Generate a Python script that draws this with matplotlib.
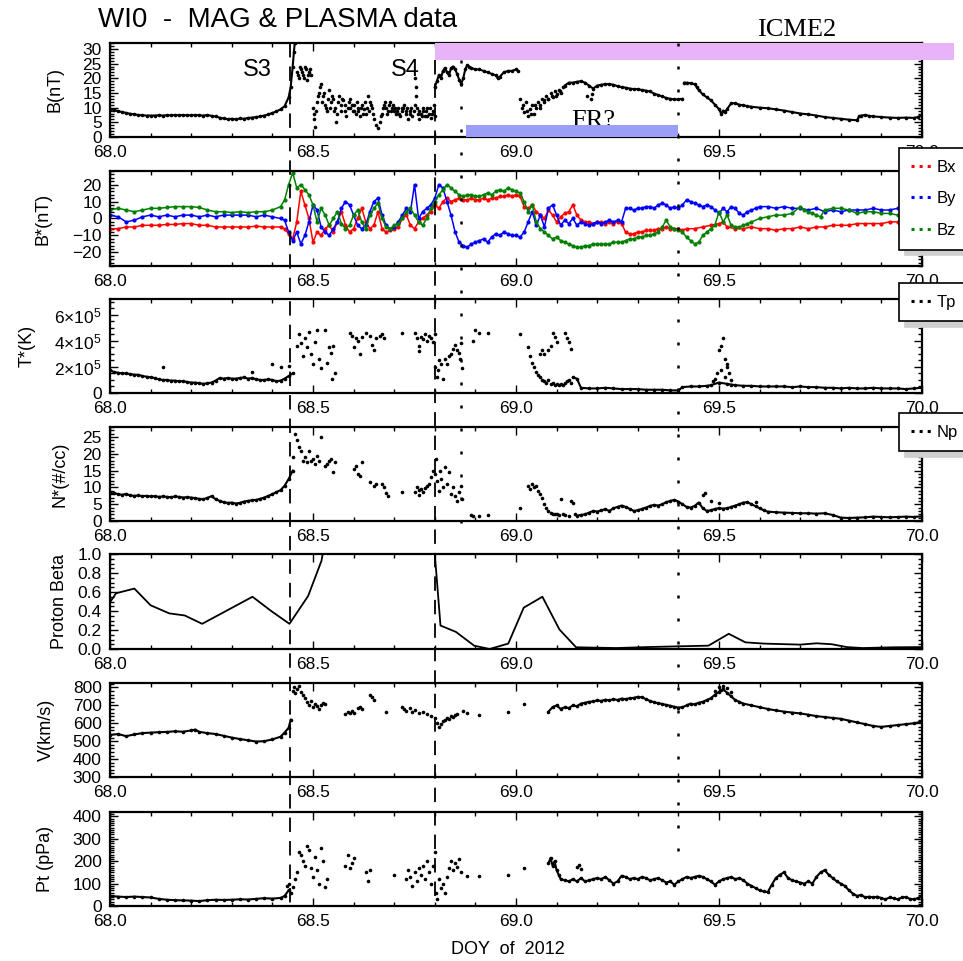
import numpy as np
import matplotlib
matplotlib.use('Agg')
import matplotlib.pyplot as plt
from matplotlib.lines import Line2D
from matplotlib.patches import Rectangle
from matplotlib.ticker import MultipleLocator, FixedLocator, FixedFormatter, FormatStrFormatter
import matplotlib.transforms as mtransforms

plt.rcParams['font.family'] = ['Liberation Sans', 'DejaVu Sans']
plt.rcParams['mathtext.fontset'] = 'custom'
plt.rcParams['mathtext.rm'] = 'Liberation Sans'
plt.rcParams['mathtext.it'] = 'Liberation Sans:italic'
plt.rcParams['mathtext.bf'] = 'Liberation Sans:bold'

# ---------------- DATA ----------------
# Panel 1: |B| (nT)
B_quiet = [(68.00, 9.6), (68.01, 9.2), (68.02, 8.8), (68.03, 8.5), (68.04, 8.2), (68.05, 7.9), (68.06, 7.7),
           (68.07, 7.5), (68.08, 7.4), (68.09, 7.3), (68.10, 7.3), (68.11, 7.3), (68.12, 7.4), (68.13, 7.3),
           (68.14, 7.4), (68.15, 7.4), (68.16, 7.5), (68.17, 7.4), (68.18, 7.5), (68.19, 7.4), (68.20, 7.4),
           (68.21, 7.5), (68.22, 7.4), (68.23, 7.3), (68.24, 7.5), (68.25, 7.2), (68.26, 7.0), (68.27, 6.6),
           (68.28, 6.3), (68.29, 6.1), (68.30, 6.2), (68.31, 6.0), (68.32, 6.3), (68.33, 6.2), (68.34, 6.5),
           (68.35, 6.6), (68.36, 6.8), (68.37, 7.0), (68.38, 7.3), (68.39, 7.7), (68.40, 8.2), (68.41, 8.7),
           (68.42, 9.4), (68.43, 10.5), (68.44, 13.5), (68.445, 17.0), (68.45, 24.0), (68.453, 29.0), (68.455, 32.0)]
B_sheath = [(68.46, 22), (68.465, 20), (68.47, 23), (68.475, 21), (68.48, 24), (68.485, 19.5), (68.49, 22),
            (68.495, 21), (68.50, 10), (68.502, 6), (68.505, 3.5), (68.51, 12), (68.515, 15), (68.52, 18),
            (68.525, 14), (68.53, 11), (68.535, 9), (68.54, 16), (68.545, 12), (68.55, 13), (68.555, 10),
            (68.557, 5), (68.56, 8), (68.565, 14), (68.57, 11), (68.575, 12.5), (68.58, 9), (68.585, 10),
            (68.59, 13), (68.595, 11), (68.60, 9), (68.605, 8), (68.61, 10), (68.615, 7), (68.62, 11),
            (68.625, 9.5), (68.63, 8), (68.635, 14), (68.64, 12), (68.645, 10), (68.65, 6), (68.655, 4),
            (68.66, 3), (68.665, 5), (68.67, 8), (68.675, 11), (68.68, 10), (68.685, 9), (68.69, 12),
            (68.695, 10), (68.70, 9), (68.705, 8), (68.71, 10), (68.715, 7), (68.72, 9), (68.725, 11),
            (68.73, 8), (68.735, 6), (68.74, 9), (68.745, 7), (68.75, 11), (68.752, 20), (68.753, 17),
            (68.754, 14), (68.755, 10), (68.76, 6), (68.765, 8), (68.77, 9), (68.775, 7), (68.78, 10),
            (68.785, 8), (68.79, 6.5), (68.795, 9), (68.80, 7),
            (68.462, 21), (68.468, 24), (68.472, 22), (68.478, 20), (68.482, 23), (68.488, 21), (68.492, 23),
            (68.503, 8), (68.508, 9), (68.512, 14), (68.518, 17), (68.522, 12), (68.528, 15), (68.532, 10),
            (68.538, 13), (68.542, 10), (68.548, 14), (68.552, 9), (68.562, 12), (68.568, 9), (68.572, 13),
            (68.578, 11), (68.582, 7), (68.588, 12), (68.592, 10), (68.598, 9), (68.602, 11), (68.608, 12),
            (68.612, 9), (68.618, 10), (68.622, 8), (68.628, 12), (68.632, 10), (68.638, 9), (68.642, 11),
            (68.648, 8), (68.668, 7), (68.672, 10), (68.678, 12), (68.682, 8), (68.688, 11), (68.692, 9),
            (68.698, 11), (68.702, 10), (68.708, 9), (68.712, 8), (68.718, 10), (68.722, 10), (68.728, 9),
            (68.732, 10), (68.738, 8), (68.742, 10), (68.748, 9), (68.758, 8), (68.762, 9), (68.768, 7),
            (68.772, 10), (68.778, 9), (68.782, 7), (68.788, 10), (68.792, 8), (68.798, 11)]
B_ejecta = [(68.80, 17), (68.805, 19), (68.81, 21), (68.815, 20), (68.82, 22.5), (68.825, 23.5), (68.83, 22),
            (68.835, 21), (68.84, 23.5), (68.845, 24), (68.85, 23), (68.855, 21.5), (68.86, 19.5),
            (68.865, 18), (68.87, 20), (68.875, 23), (68.88, 24.5), (68.885, 24), (68.89, 23.5), (68.90, 23),
            (68.91, 23), (68.92, 22.5), (68.93, 22), (68.94, 21.5), (68.95, 21), (68.955, 20), (68.96, 20.5),
            (68.97, 22), (68.98, 22.5), (68.99, 22.5), (69.00, 23), (69.005, 22.5)]
B_gap = [(69.01, 13), (69.015, 10), (69.02, 8.5), (69.025, 12), (69.03, 7), (69.035, 9.5), (69.04, 11),
         (69.045, 8), (69.05, 10), (69.055, 12), (69.06, 11), (69.065, 13), (69.07, 12.5), (69.075, 14),
         (69.08, 13), (69.085, 15), (69.09, 13.5), (69.095, 15.5), (69.10, 14.5), (69.105, 16), (69.11, 15),
         (69.115, 17), (69.175, 14), (69.185, 13), (69.187, 14.5),
         (69.018, 11), (69.028, 9), (69.038, 8), (69.048, 11), (69.058, 10), (69.068, 12), (69.078, 13),
         (69.088, 14), (69.098, 14), (69.108, 15.5)]
B_fr = [(69.12, 17.5), (69.13, 18.5), (69.14, 18.5), (69.15, 18.8), (69.16, 19.0), (69.17, 18.5), (69.18, 17.5),
        (69.19, 16.5), (69.20, 17.5), (69.21, 17.8), (69.22, 18.0), (69.23, 18.0), (69.24, 17.8), (69.25, 17.3),
        (69.26, 17.0), (69.27, 16.8), (69.28, 16.5), (69.29, 16.3), (69.30, 16.3), (69.31, 16.0), (69.32, 15.8),
        (69.33, 15.5), (69.34, 14.8), (69.35, 14.3), (69.36, 13.8), (69.37, 13.3), (69.38, 13.0), (69.39, 12.8),
        (69.40, 12.8), (69.41, 13.0)]
B_tail = [(69.415, 18.5), (69.42, 18.5), (69.43, 18.3), (69.44, 18.0), (69.445, 17.0), (69.45, 16.0),
          (69.46, 14.5), (69.47, 13.5), (69.48, 12.5), (69.49, 11.0), (69.50, 9.5), (69.505, 8.0), (69.51, 9.0),
          (69.515, 8.5), (69.52, 9.5), (69.53, 11.5), (69.54, 11.5), (69.55, 11.0), (69.56, 10.8), (69.57, 10.5),
          (69.58, 10.3), (69.60, 10.0), (69.62, 9.8), (69.64, 9.4), (69.66, 9.0), (69.68, 8.5), (69.70, 8.0),
          (69.72, 7.7), (69.74, 7.3), (69.76, 6.8), (69.78, 6.5), (69.80, 6.2), (69.82, 5.9), (69.84, 5.7),
          (69.845, 7.0), (69.85, 7.3), (69.86, 7.5), (69.87, 7.2), (69.88, 7.0), (69.90, 6.8), (69.92, 6.6),
          (69.94, 6.5), (69.96, 6.6), (69.98, 6.5), (69.99, 6.8), (70.00, 7.5)]

# Panel 2: B components (nT)
BX = [(68.00, -6), (68.02, -6), (68.04, -5), (68.06, -5), (68.08, -4), (68.10, -4), (68.12, -4), (68.14, -3.5),
      (68.16, -3.5), (68.18, -3), (68.20, -3), (68.22, -4), (68.24, -4), (68.26, -5), (68.28, -5), (68.30, -5),
      (68.32, -5), (68.34, -5), (68.36, -4.5), (68.38, -5), (68.40, -5), (68.42, -5), (68.43, -6), (68.44, -9),
      (68.45, -12), (68.46, -2), (68.47, 16), (68.48, 8), (68.49, 0), (68.50, -14), (68.51, -8), (68.52, -10),
      (68.53, -6), (68.54, -4), (68.55, -8), (68.56, -2), (68.57, 4), (68.58, -4), (68.59, -8), (68.60, -6),
      (68.61, 0), (68.62, 6), (68.63, -2), (68.64, -6), (68.65, -4), (68.66, 4), (68.67, -6), (68.68, -8),
      (68.69, -7), (68.70, -6), (68.71, -5), (68.72, 0), (68.73, 2), (68.74, -4), (68.75, -6), (68.76, -2),
      (68.77, 0), (68.78, 2), (68.79, 4), (68.80, 8), (68.81, 6), (68.82, 10), (68.83, 12), (68.84, 10),
      (68.85, 11), (68.86, 12), (68.87, 11), (68.88, 11), (68.89, 12), (68.90, 11), (68.91, 11), (68.92, 12),
      (68.93, 11), (68.94, 12), (68.95, 12), (68.96, 13), (68.97, 13), (68.98, 14), (68.99, 13), (69.00, 14),
      (69.01, 13), (69.02, 7), (69.03, 6), (69.04, 8), (69.05, 4), (69.06, 2), (69.07, 0), (69.08, 5),
      (69.09, 2), (69.10, -2), (69.11, 1), (69.12, 3), (69.13, 4), (69.14, 8), (69.15, 2), (69.16, -1),
      (69.17, -2), (69.18, -2), (69.19, -3), (69.20, -2), (69.21, -2), (69.22, -3), (69.23, -2), (69.24, -3),
      (69.25, -2), (69.26, -3), (69.27, -8), (69.28, -9), (69.29, -9), (69.30, -8), (69.31, -8), (69.32, -7),
      (69.33, -7), (69.34, -7), (69.35, -6), (69.36, -6), (69.37, -5), (69.38, -6), (69.39, -6), (69.40, -6),
      (69.41, -7), (69.42, -6), (69.44, -6), (69.46, -5), (69.48, -4), (69.50, -3), (69.51, -2), (69.52, -5),
      (69.54, -6), (69.56, -6), (69.58, -5), (69.60, -6), (69.62, -6), (69.64, -7), (69.66, -6), (69.68, -6),
      (69.70, -5), (69.72, -6), (69.74, -5), (69.76, -5), (69.78, -4), (69.80, -4), (69.82, -4), (69.84, -3),
      (69.86, -3), (69.88, -3), (69.90, -3), (69.92, -2), (69.94, -2), (69.96, -1), (69.98, -1), (70.00, -1)]
BY = [(68.00, 2), (68.02, 1), (68.04, -2), (68.06, -1), (68.08, 1), (68.10, 2), (68.12, 1), (68.14, 2),
      (68.16, 1), (68.18, 2), (68.20, 2), (68.22, 1), (68.24, 2), (68.26, 1), (68.28, 2), (68.30, 2),
      (68.32, 2), (68.34, 2), (68.36, 1), (68.38, 2), (68.40, 1), (68.42, 0), (68.43, -1), (68.44, -8),
      (68.45, -13), (68.46, -8), (68.47, -15), (68.48, -10), (68.49, -2), (68.50, 8), (68.51, 5), (68.52, -5),
      (68.53, -8), (68.54, -10), (68.55, -6), (68.56, -2), (68.57, 6), (68.58, 10), (68.59, 8), (68.60, 2),
      (68.61, -4), (68.62, -6), (68.63, -4), (68.64, 4), (68.65, 10), (68.66, 12), (68.67, 2), (68.68, -4),
      (68.69, -6), (68.70, -5), (68.71, -2), (68.72, 2), (68.73, 6), (68.74, 4), (68.75, 20), (68.76, 0),
      (68.77, 4), (68.78, 6), (68.79, 8), (68.80, 12), (68.81, 20), (68.82, 18), (68.83, 10), (68.84, 2),
      (68.85, -8), (68.86, -14), (68.87, -16), (68.88, -17), (68.89, -15), (68.90, -14), (68.91, -13),
      (68.92, -12), (68.93, -14), (68.94, -11), (68.95, -9), (68.96, -10), (68.97, -8), (68.98, -9),
      (68.99, -10), (69.00, -10), (69.01, -11), (69.02, -8), (69.03, -2), (69.04, 4), (69.05, -4), (69.06, 2),
      (69.07, -5), (69.08, 6), (69.09, 8), (69.10, 2), (69.11, -4), (69.12, -1), (69.13, -3), (69.14, 0),
      (69.15, -4), (69.16, -2), (69.17, -3), (69.18, -4), (69.19, -3), (69.20, -2), (69.21, -3), (69.22, -2),
      (69.23, -1), (69.24, -2), (69.25, -1), (69.26, -2), (69.27, 6), (69.28, 6), (69.29, 5), (69.30, 6),
      (69.31, 6), (69.32, 7), (69.33, 7), (69.34, 6), (69.35, 8), (69.36, 9), (69.37, 8), (69.38, 6),
      (69.39, 7), (69.40, 6), (69.41, 8), (69.42, 11), (69.43, 10), (69.44, 9), (69.45, 8), (69.46, 7),
      (69.47, 8), (69.48, 7), (69.49, 5), (69.50, 3), (69.51, 6), (69.52, 4), (69.53, 7), (69.54, 6),
      (69.55, 3), (69.56, 2), (69.57, 4), (69.58, 5), (69.59, 6), (69.60, 7), (69.62, 7), (69.64, 6),
      (69.66, 7), (69.68, 6), (69.70, 6), (69.72, 5), (69.74, 6), (69.76, 4), (69.78, 5), (69.80, 4),
      (69.82, 5), (69.84, 5), (69.86, 5), (69.88, 6), (69.90, 5), (69.92, 5), (69.94, 6), (69.96, 5),
      (69.98, 5), (70.00, 6)]
BZ = [(68.00, 5), (68.02, 6), (68.04, 5), (68.06, 4), (68.08, 5), (68.10, 6), (68.12, 6), (68.14, 6.5),
      (68.16, 7), (68.18, 7), (68.20, 7), (68.22, 6.5), (68.24, 5), (68.26, 4), (68.28, 4), (68.30, 3.5),
      (68.32, 4), (68.34, 3.5), (68.36, 4), (68.38, 4), (68.40, 5), (68.42, 7), (68.43, 11), (68.44, 20),
      (68.45, 27), (68.46, 18), (68.47, 20), (68.48, 17), (68.49, 14), (68.50, 8), (68.51, -2), (68.52, 6),
      (68.53, 2), (68.54, -4), (68.55, 0), (68.56, 4), (68.57, -3), (68.58, -6), (68.59, -4), (68.60, 2),
      (68.61, 5), (68.62, -2), (68.63, -6), (68.64, 2), (68.65, 6), (68.66, 9), (68.67, 0), (68.68, -5),
      (68.69, -6), (68.70, -4), (68.71, -3), (68.72, 0), (68.73, 4), (68.74, 6), (68.75, 2), (68.76, -2),
      (68.77, -4), (68.78, 0), (68.79, 6), (68.80, 10), (68.81, 14), (68.82, 17), (68.83, 20), (68.84, 18),
      (68.85, 16), (68.86, 14), (68.87, 13), (68.88, 14), (68.89, 14), (68.90, 13), (68.91, 13), (68.92, 14),
      (68.93, 15), (68.94, 14), (68.95, 16), (68.96, 17), (68.97, 16), (68.98, 18), (68.99, 17), (69.00, 16),
      (69.01, 15), (69.02, 10), (69.03, 4), (69.04, 8), (69.05, -2), (69.06, -6), (69.07, -8), (69.08, -10),
      (69.09, -12), (69.10, -11), (69.11, -13), (69.12, -14), (69.13, -15), (69.14, -16), (69.15, -17),
      (69.16, -17), (69.17, -16), (69.18, -16), (69.19, -15), (69.20, -15), (69.21, -15), (69.22, -15),
      (69.23, -15), (69.24, -14), (69.25, -14), (69.26, -14), (69.27, -13), (69.28, -12), (69.29, -12),
      (69.30, -11), (69.31, -11), (69.32, -10), (69.33, -10), (69.34, -9), (69.35, -8), (69.36, -5),
      (69.37, -1), (69.38, -5), (69.39, -6), (69.40, -7), (69.41, -8), (69.42, -11), (69.43, -13), (69.44, -15),
      (69.45, -14), (69.46, -10), (69.47, -8), (69.48, -6), (69.49, -4), (69.50, 4), (69.51, -2), (69.52, 2),
      (69.53, -4), (69.54, -5), (69.55, -5), (69.56, -4), (69.57, -3), (69.58, -2), (69.60, 0), (69.62, 1),
      (69.64, 2), (69.66, 2), (69.68, 3), (69.70, 7), (69.71, 5), (69.72, 4), (69.73, 3), (69.74, 2),
      (69.75, 1), (69.76, 5), (69.78, 6), (69.80, 6), (69.82, 5), (69.84, 3), (69.86, 4), (69.88, 4),
      (69.90, 3), (69.92, 3), (69.94, 2), (69.96, 2), (69.98, 3), (70.00, 3)]

# Panel 3: proton temperature (units of 1e5 K)
T_quiet = [(68.00, 1.75), (68.01, 1.6), (68.02, 1.55), (68.03, 1.5), (68.04, 1.5), (68.05, 1.45), (68.06, 1.4),
           (68.07, 1.4), (68.08, 1.3), (68.09, 1.25), (68.10, 1.2), (68.11, 1.15), (68.12, 1.05), (68.13, 1.0),
           (68.14, 1.0), (68.15, 0.95), (68.16, 0.95), (68.17, 0.9), (68.18, 0.9), (68.19, 0.85), (68.20, 0.8),
           (68.21, 0.8), (68.22, 0.75), (68.23, 0.7), (68.24, 0.75), (68.25, 0.8), (68.26, 0.95), (68.27, 1.15),
           (68.28, 1.1), (68.29, 1.15), (68.30, 1.1), (68.31, 1.1), (68.32, 1.15), (68.33, 1.2), (68.34, 1.1),
           (68.35, 1.15), (68.36, 1.05), (68.37, 1.0), (68.38, 1.0), (68.39, 1.05), (68.40, 1.0), (68.41, 0.9),
           (68.42, 0.95), (68.43, 1.1), (68.44, 1.3), (68.45, 1.5)]
T_pts = [(68.13, 2.0), (68.40, 2.2), (68.42, 2.0), (68.44, 2.1), (68.35, 1.6),
         (68.46, 3.6), (68.465, 4.5), (68.47, 3.8), (68.475, 2.8), (68.48, 4.2), (68.485, 3.5), (68.49, 4.7),
         (68.495, 3.0), (68.50, 2.2), (68.505, 3.9), (68.51, 4.8), (68.515, 2.6), (68.52, 1.9), (68.53, 4.8),
         (68.535, 2.3), (68.54, 3.5), (68.545, 3.1), (68.548, 1.1), (68.55, 3.6), (68.555, 1.5), (68.59, 4.6),
         (68.595, 4.4), (68.60, 3.5), (68.605, 4.2), (68.61, 4.0), (68.615, 3.0), (68.62, 4.3), (68.63, 4.6),
         (68.64, 4.4), (68.645, 3.7), (68.65, 3.3), (68.655, 4.2), (68.665, 4.4), (68.67, 4.5), (68.675, 4.2),
         (68.72, 4.6), (68.75, 4.6), (68.755, 4.2), (68.76, 3.6), (68.762, 3.2), (68.765, 4.3), (68.77, 4.1),
         (68.775, 4.5), (68.78, 4.0), (68.785, 4.4), (68.79, 4.2), (68.795, 3.9), (68.80, 4.5),
         (68.80, 2.0), (68.805, 1.2), (68.808, 1.8), (68.81, 2.5), (68.815, 2.2), (68.82, 1.1), (68.825, 2.6),
         (68.83, 2.2), (68.835, 2.8), (68.84, 3.0), (68.845, 3.4), (68.85, 3.7), (68.855, 3.3), (68.86, 3.1),
         (68.862, 2.6), (68.865, 3.8), (68.868, 1.9),
         (68.895, 4.0), (68.90, 4.8), (68.91, 4.6), (68.93, 4.6), (69.01, 4.5),
         (69.03, 3.5), (69.035, 2.8), (69.04, 2.3), (69.045, 2.0), (69.05, 1.6), (69.055, 1.4), (69.06, 1.2),
         (69.065, 1.0), (69.07, 0.9), (69.075, 0.8), (69.08, 1.0), (69.085, 0.7), (69.09, 0.8), (69.095, 0.6),
         (69.10, 0.7), (69.105, 0.6), (69.11, 0.7), (69.115, 0.6), (69.12, 0.8), (69.125, 0.9), (69.13, 1.0),
         (69.135, 0.8), (69.06, 3.0), (69.065, 3.3), (69.07, 3.0), (69.08, 3.3), (69.085, 3.6), (69.09, 4.6),
         (69.095, 4.3), (69.10, 3.9), (69.12, 4.6), (69.125, 4.2), (69.13, 3.9), (69.135, 3.4),
         (69.485, 0.9), (69.49, 1.1), (69.495, 1.5), (69.50, 3.3), (69.505, 3.6), (69.51, 4.2), (69.515, 2.6),
         (69.52, 2.0), (69.525, 1.5), (69.53, 1.0), (69.505, 1.8), (69.515, 1.2), (69.52, 2.2)]
T_cont = [(69.14, 1.2), (69.15, 1.1), (69.16, 0.4), (69.18, 0.35), (69.20, 0.35), (69.22, 0.4), (69.24, 0.35),
          (69.26, 0.3), (69.28, 0.3), (69.30, 0.3), (69.32, 0.25), (69.34, 0.25), (69.36, 0.25), (69.38, 0.2),
          (69.40, 0.2), (69.41, 0.45), (69.43, 0.5), (69.45, 0.5), (69.47, 0.55), (69.48, 0.6), (69.50, 0.8),
          (69.52, 0.7), (69.53, 0.65), (69.54, 0.6), (69.56, 0.55), (69.58, 0.55), (69.60, 0.5), (69.62, 0.5),
          (69.64, 0.5), (69.66, 0.5), (69.68, 0.45), (69.70, 0.5), (69.72, 0.45), (69.74, 0.45), (69.76, 0.4),
          (69.78, 0.4), (69.80, 0.35), (69.82, 0.4), (69.84, 0.35), (69.86, 0.35), (69.88, 0.4), (69.90, 0.35),
          (69.92, 0.35), (69.94, 0.35), (69.96, 0.3), (69.98, 0.35), (70.00, 0.4)]

# Panel 4: proton density (#/cc)
N_quiet = [(68.00, 8.2), (68.01, 8.3), (68.02, 8.0), (68.03, 7.8), (68.04, 8.1), (68.05, 7.6), (68.06, 7.5),
           (68.07, 7.6), (68.08, 7.4), (68.09, 7.5), (68.10, 7.3), (68.11, 7.4), (68.12, 7.2), (68.13, 7.3),
           (68.14, 7.2), (68.15, 7.1), (68.16, 7.3), (68.17, 7.2), (68.18, 7.0), (68.19, 7.1), (68.20, 7.0),
           (68.21, 6.8), (68.22, 6.6), (68.23, 6.5), (68.24, 6.9), (68.25, 7.4), (68.26, 6.5), (68.27, 6.0),
           (68.28, 5.6), (68.29, 5.4), (68.30, 5.5), (68.31, 5.2), (68.32, 5.4), (68.33, 5.8), (68.34, 6.0),
           (68.35, 6.2), (68.36, 6.3), (68.37, 6.6), (68.38, 7.0), (68.39, 7.5), (68.40, 8.0), (68.41, 8.6),
           (68.42, 9.2), (68.43, 10.5), (68.44, 12.5), (68.45, 15.0)]
N_pts = [(68.45, 19), (68.455, 26), (68.46, 24), (68.465, 22), (68.47, 21), (68.475, 18), (68.48, 19),
         (68.485, 17.5), (68.49, 21), (68.495, 18), (68.50, 18.5), (68.505, 17), (68.51, 19.5), (68.515, 18),
         (68.52, 25), (68.53, 16.5), (68.535, 17), (68.54, 18), (68.545, 18.5), (68.55, 14.5), (68.555, 17.5),
         (68.60, 15.5), (68.605, 16.5), (68.61, 14), (68.615, 13.5), (68.62, 17.5), (68.64, 11.5), (68.65, 10.5),
         (68.655, 11), (68.67, 11), (68.675, 10), (68.68, 8.3), (68.685, 7.5), (68.72, 8.5), (68.75, 8.7),
         (68.755, 10), (68.76, 9.3), (68.762, 7.8), (68.765, 9.5), (68.77, 8.5), (68.775, 9.8), (68.78, 10.3),
         (68.785, 11), (68.79, 13), (68.795, 15), (68.80, 14), (68.803, 18.5), (68.805, 12), (68.81, 9),
         (68.812, 15), (68.815, 12.5), (68.82, 10), (68.825, 16), (68.83, 11), (68.835, 14.5), (68.84, 8),
         (68.845, 10), (68.85, 7.5), (68.855, 6), (68.86, 8.5), (68.865, 10.5), (68.868, 6.5),
         (68.89, 1.7), (68.895, 1.5), (68.91, 1.6), (68.93, 1.8), (69.01, 4.0),
         (69.03, 10.5), (69.035, 9.5), (69.04, 11), (69.045, 10), (69.05, 10.5), (69.055, 9), (69.06, 8),
         (69.065, 7), (69.07, 5), (69.075, 4), (69.08, 3), (69.085, 2.5), (69.09, 2), (69.095, 2.2), (69.10, 2),
         (69.105, 1.8), (69.11, 6.5), (69.115, 2), (69.12, 1.8), (69.13, 1.5), (69.135, 6), (69.14, 5.5),
         (69.145, 2), (69.46, 7.8), (69.465, 8.2), (69.48, 6.0), (69.50, 5.5), (69.59, 5.8)]
N_cont = [(69.15, 1.6), (69.16, 1.8), (69.17, 2.0), (69.18, 2.5), (69.19, 3.0), (69.20, 2.8), (69.21, 3.2),
          (69.22, 3.5), (69.23, 3.0), (69.24, 3.8), (69.25, 4.2), (69.26, 4.6), (69.27, 4.2), (69.28, 3.6),
          (69.29, 3.0), (69.30, 3.2), (69.31, 3.6), (69.32, 4.0), (69.33, 4.5), (69.34, 4.8), (69.35, 4.6),
          (69.36, 5.0), (69.37, 5.6), (69.38, 6.0), (69.39, 6.3), (69.40, 5.8), (69.41, 5.0), (69.42, 4.2),
          (69.43, 4.0), (69.44, 4.5), (69.45, 5.5), (69.46, 3.8), (69.47, 3.0), (69.48, 3.2), (69.49, 3.6),
          (69.50, 3.8), (69.51, 3.7), (69.52, 3.8), (69.53, 4.2), (69.54, 4.6), (69.55, 5.0), (69.56, 5.5),
          (69.57, 5.6), (69.58, 5.0), (69.59, 4.4), (69.60, 3.8), (69.61, 3.2), (69.62, 2.8), (69.64, 2.6),
          (69.66, 2.5), (69.68, 2.4), (69.70, 2.3), (69.72, 2.3), (69.74, 2.2), (69.76, 2.3), (69.78, 1.8),
          (69.80, 1.0), (69.82, 0.9), (69.84, 1.0), (69.86, 1.1), (69.88, 1.3), (69.90, 1.2), (69.92, 1.1),
          (69.94, 1.2), (69.96, 1.3), (69.98, 1.2), (70.00, 1.4)]

# Panel 5: proton beta
BETA = [(68.002, 0.505), (68.015, 0.587), (68.06, 0.636), (68.10, 0.46), (68.146, 0.375), (68.184, 0.353),
        (68.227, 0.265), (68.351, 0.55), (68.397, 0.40), (68.442, 0.265), (68.488, 0.558), (68.521, 0.93),
        (68.54, 1.40), (68.79, 1.60), (68.80, 1.0), (68.814, 0.247), (68.852, 0.18), (68.897, 0.035),
        (68.935, 0.0), (68.981, 0.057), (69.019, 0.435), (69.065, 0.55), (69.107, 0.205), (69.148, 0.018),
        (69.247, 0.01), (69.32, 0.02), (69.398, 0.028), (69.474, 0.035), (69.524, 0.16), (69.565, 0.07),
        (69.61, 0.057), (69.70, 0.046), (69.74, 0.06), (69.778, 0.05), (69.815, 0.02), (69.854, 0.01),
        (69.93, 0.018), (70.0, 0.02)]

# Panel 6: bulk speed (km/s)
V_quiet = [(68.00, 535), (68.02, 540), (68.04, 528), (68.06, 538), (68.08, 545), (68.10, 548), (68.12, 550),
           (68.14, 552), (68.16, 555), (68.18, 553), (68.20, 560), (68.21, 565), (68.22, 552), (68.24, 545),
           (68.26, 540), (68.28, 530), (68.30, 520), (68.32, 512), (68.34, 505), (68.36, 498), (68.38, 500),
           (68.40, 510), (68.42, 525), (68.43, 548), (68.44, 575), (68.445, 620)]
V_pts = [(68.45, 780), (68.452, 800), (68.455, 770), (68.46, 790), (68.465, 810), (68.47, 775), (68.475, 760),
         (68.48, 740), (68.485, 720), (68.49, 700), (68.495, 725), (68.50, 690), (68.505, 710), (68.51, 695),
         (68.515, 680), (68.52, 700), (68.525, 715), (68.53, 705), (68.58, 650), (68.585, 665), (68.59, 655),
         (68.595, 670), (68.60, 660), (68.61, 685), (68.615, 690), (68.62, 680), (68.64, 760), (68.645, 745),
         (68.65, 730), (68.68, 665), (68.72, 690), (68.725, 680), (68.73, 670), (68.74, 685), (68.745, 665),
         (68.75, 675), (68.76, 660), (68.77, 665), (68.78, 650), (68.79, 640), (68.80, 630), (68.805, 600),
         (68.81, 580), (68.815, 595), (68.82, 610), (68.825, 620), (68.83, 630), (68.835, 625), (68.84, 640),
         (68.845, 635), (68.85, 645), (68.855, 650), (68.87, 670), (68.88, 660), (68.91, 645), (68.98, 665),
         (69.02, 710), (69.49, 780), (69.50, 800), (69.505, 785), (69.51, 810), (69.52, 795), (69.53, 775)]
V_cont = [(69.08, 665), (69.09, 690), (69.10, 700), (69.11, 680), (69.12, 690), (69.13, 685), (69.14, 700),
          (69.15, 695), (69.16, 710), (69.17, 715), (69.18, 720), (69.19, 722), (69.20, 728), (69.21, 725),
          (69.22, 732), (69.23, 728), (69.24, 735), (69.25, 730), (69.26, 738), (69.27, 735), (69.28, 740),
          (69.29, 742), (69.30, 748), (69.31, 745), (69.32, 735), (69.33, 725), (69.34, 718), (69.35, 712),
          (69.36, 708), (69.37, 703), (69.38, 698), (69.39, 692), (69.40, 688), (69.41, 690), (69.42, 700),
          (69.43, 710), (69.44, 705), (69.45, 715), (69.46, 720), (69.47, 730), (69.48, 740), (69.49, 760),
          (69.50, 775), (69.51, 790), (69.52, 770), (69.53, 750), (69.54, 730), (69.55, 720), (69.56, 710),
          (69.58, 700), (69.60, 690), (69.62, 680), (69.64, 672), (69.66, 665), (69.68, 660), (69.70, 655),
          (69.72, 648), (69.74, 640), (69.76, 635), (69.78, 630), (69.80, 625), (69.82, 615), (69.84, 605),
          (69.86, 595), (69.88, 585), (69.90, 580), (69.92, 585), (69.94, 590), (69.96, 595), (69.98, 600),
          (70.00, 610)]

# Panel 7: total pressure (pPa)
P_quiet = [(68.00, 45), (68.02, 42), (68.04, 40), (68.06, 42), (68.08, 40), (68.10, 38), (68.12, 32),
           (68.14, 28), (68.16, 26), (68.18, 25), (68.20, 24), (68.22, 22), (68.24, 26), (68.26, 28),
           (68.28, 27), (68.30, 28), (68.32, 30), (68.34, 29), (68.36, 32), (68.38, 35), (68.40, 33),
           (68.42, 36), (68.43, 45), (68.44, 70)]
P_pts = [(68.435, 90), (68.44, 100), (68.445, 60), (68.45, 85), (68.455, 120), (68.46, 150), (68.465, 240),
         (68.47, 230), (68.475, 200), (68.48, 180), (68.485, 270), (68.49, 250), (68.495, 170), (68.50, 130),
         (68.505, 220), (68.51, 160), (68.515, 100), (68.52, 260), (68.525, 200), (68.53, 85), (68.535, 120),
         (68.58, 180), (68.585, 230), (68.59, 170), (68.595, 190), (68.60, 215), (68.63, 150), (68.635, 110),
         (68.64, 160), (68.70, 140), (68.73, 120), (68.735, 160), (68.74, 130), (68.745, 90), (68.75, 150),
         (68.755, 110), (68.76, 170), (68.765, 140), (68.77, 180), (68.775, 120), (68.78, 200), (68.785, 150),
         (68.79, 100), (68.795, 180), (68.80, 240), (68.802, 60), (68.805, 30), (68.81, 120), (68.815, 80),
         (68.82, 100), (68.825, 60), (68.83, 130), (68.835, 170), (68.84, 200), (68.845, 160), (68.85, 190),
         (68.855, 175), (68.86, 210), (68.865, 150), (68.88, 135), (68.91, 135), (68.98, 140), (69.02, 170),
         (69.15, 175), (69.155, 185), (69.16, 165)]
P_cont = [(69.08, 190), (69.085, 215), (69.09, 180), (69.095, 200), (69.10, 160), (69.105, 140), (69.11, 120),
          (69.12, 115), (69.13, 110), (69.14, 120), (69.15, 110), (69.16, 125), (69.17, 110), (69.18, 115),
          (69.19, 120), (69.20, 125), (69.21, 120), (69.22, 130), (69.23, 115), (69.24, 100), (69.25, 110),
          (69.26, 135), (69.27, 130), (69.28, 120), (69.29, 125), (69.30, 120), (69.31, 130), (69.32, 125),
          (69.33, 115), (69.34, 120), (69.35, 125), (69.36, 115), (69.37, 105), (69.38, 110), (69.39, 95),
          (69.40, 110), (69.41, 120), (69.42, 130), (69.43, 125), (69.44, 130), (69.45, 135), (69.46, 130),
          (69.47, 120), (69.48, 110), (69.49, 95), (69.50, 110), (69.51, 120), (69.52, 125), (69.53, 130),
          (69.54, 120), (69.55, 125), (69.56, 115), (69.57, 100), (69.58, 90), (69.59, 80), (69.60, 70),
          (69.61, 65), (69.62, 62), (69.63, 95), (69.64, 125), (69.65, 140), (69.66, 150), (69.67, 125),
          (69.68, 115), (69.69, 110), (69.70, 105), (69.71, 100), (69.72, 110), (69.73, 100), (69.74, 130),
          (69.75, 150), (69.76, 160), (69.77, 140), (69.78, 125), (69.79, 110), (69.80, 100), (69.81, 90),
          (69.82, 70), (69.83, 55), (69.84, 45), (69.85, 50), (69.86, 38), (69.87, 42), (69.88, 38),
          (69.89, 42), (69.90, 35), (69.91, 30), (69.92, 38), (69.93, 35), (69.94, 30), (69.95, 38),
          (69.96, 40), (69.97, 32), (69.98, 30), (69.99, 35), (70.00, 45)]

# Event markers (DOY)
SHOCKS = [68.443, 68.80]
FR_START, FR_END = 68.865, 69.40
ICME_START, ICME_END = 68.80, 70.08
# ---------------- END DATA ----------------

W, H = 963, 961
fig = plt.figure(figsize=(W / 100, H / 100), dpi=100)

panels = [(43, 137), (171, 266), (299, 393), (427, 521), (554, 649), (683, 777), (812, 906)]
axes = []
for top, bot in panels:
    ax = fig.add_axes([110 / W, 1 - bot / H, 812 / W, (bot - top) / H])
    axes.append(ax)

TICK_FS = 12.5
LAB_FS = 13


def style(ax, ylim, major, minor, label, labx):
    ax.set_xlim(68.0, 70.0)
    ax.set_ylim(*ylim)
    ax.xaxis.set_major_locator(MultipleLocator(0.5))
    ax.xaxis.set_minor_locator(MultipleLocator(0.1))
    ax.xaxis.set_major_formatter(FormatStrFormatter('%.1f'))
    ax.yaxis.set_major_locator(MultipleLocator(major))
    ax.yaxis.set_minor_locator(MultipleLocator(minor))
    ax.tick_params(which='both', direction='in', top=True, right=True, labelsize=TICK_FS, width=1.0)
    ax.tick_params(which='major', length=6)
    ax.tick_params(which='minor', length=3)
    ax.tick_params(axis='x', pad=6)
    ax.tick_params(axis='y', pad=6)
    for s in ax.spines.values():
        s.set_linewidth(1.6)
    ax.set_ylabel(label, fontsize=LAB_FS)
    ax.yaxis.label.set_verticalalignment('center')
    ax.yaxis.set_label_coords((labx - 110) / 812, 0.5)


def seg(ax, data, color='k', lw=1.5, ms=2.6, scale=1.0):
    t, v = np.array(data, dtype=float).T
    ax.plot(t, v * scale, '-', color=color, lw=lw, marker='o', ms=ms, mew=0)


def dots(ax, data, color='k', ms=2.6, scale=1.0):
    t, v = np.array(data, dtype=float).T
    ax.plot(t, v * scale, 'o', color=color, ms=ms, mew=0, ls='none')


# Panel 1
ax = axes[0]
style(ax, (0, 32), 5, 1, 'B(nT)', 55)
for d in (B_quiet, B_ejecta, B_fr, B_tail):
    seg(ax, d)
dots(ax, B_sheath)
dots(ax, B_gap)
ax.add_patch(Rectangle((ICME_START, 26.2), ICME_END - ICME_START, 5.85, facecolor='#E9B3F9',
                       edgecolor='none', clip_on=False, zorder=6))
ax.add_patch(Rectangle((FR_START + 0.012, 0.0), FR_END - FR_START - 0.012, 4.1, facecolor='#9A9EF6',
                       edgecolor='none', clip_on=False, zorder=6))
ax.text(68.362, 22.8, 'S3', fontsize=17, ha='center', va='center')
ax.text(68.727, 22.8, 'S4', fontsize=17, ha='center', va='center')
ax.text(69.692, 34.4, 'ICME2', fontsize=19, ha='center', va='baseline', family='Liberation Serif')
ax.text(69.19, 3.4, 'FR?', fontsize=19, ha='center', va='baseline', family='Liberation Serif', zorder=5)

# Panel 2
ax = axes[1]
style(ax, (-28, 28), 10, 2, 'B*(nT)', 43)
seg(ax, BX, color='#FF0000', lw=1.1, ms=3.0)
seg(ax, BY, color='#0000FF', lw=1.1, ms=3.0)
seg(ax, BZ, color='#008000', lw=1.1, ms=3.0)
hs = [Line2D([], [], color=c, ls=':', lw=2.2) for c in ('#FF0000', '#0000FF', '#008000')]
leg_kw = dict(loc='upper left', bbox_transform=fig.transFigure, frameon=True, fancybox=False,
              edgecolor='k', framealpha=1, fontsize=12, handlelength=1.2, handletextpad=0.35,
              borderaxespad=0, borderpad=0.7,
              shadow={'ox': 4, 'oy': -4, 'facecolor': '#cfcfcf', 'edgecolor': '#cfcfcf', 'alpha': 1})
leg = ax.legend(hs, ['Bx', 'By', 'Bz'], bbox_to_anchor=(899 / W, 1 - 148 / H), labelspacing=1.0, **leg_kw)
leg.get_frame().set_linewidth(1.2)
leg.set_zorder(20)

# Panel 3
ax = axes[2]
style(ax, (0, 7.2e5), 2e5, 0.5e5, 'T*(K)', 27)
ax.yaxis.set_major_locator(FixedLocator([0, 2e5, 4e5, 6e5]))
ax.yaxis.set_major_formatter(FixedFormatter(['0', r'2×10$^5$', r'4×10$^5$', r'6×10$^5$']))
seg(ax, T_quiet, scale=1e5)
seg(ax, T_cont, scale=1e5)
dots(ax, T_pts, scale=1e5)
leg = ax.legend([Line2D([], [], color='k', ls=':', lw=2.2)], ['Tp'], bbox_to_anchor=(899 / W, 1 - 283 / H), **leg_kw)
leg.get_frame().set_linewidth(1.2)
leg.set_zorder(20)

# Panel 4
ax = axes[3]
style(ax, (0, 28), 5, 1, 'N*(#/cc)', 60)
seg(ax, N_quiet)
seg(ax, N_cont)
dots(ax, N_pts)
leg = ax.legend([Line2D([], [], color='k', ls=':', lw=2.2)], ['Np'], bbox_to_anchor=(899 / W, 1 - 413 / H), **leg_kw)
leg.get_frame().set_linewidth(1.2)
leg.set_zorder(20)

# Panel 5
ax = axes[4]
style(ax, (0, 1.0), 0.2, 0.05, 'Proton Beta', 59)
ax.yaxis.set_major_formatter(FormatStrFormatter('%.1f'))
t, v = np.array(BETA).T
ax.plot(t, v, '-', color='k', lw=1.3)

# Panel 6
ax = axes[5]
style(ax, (300, 825), 100, 20, 'V(km/s)', 46)
seg(ax, V_quiet)
seg(ax, V_cont)
dots(ax, V_pts)

# Panel 7
ax = axes[6]
style(ax, (0, 420), 100, 10, 'Pt (pPa)', 46)
seg(ax, P_quiet)
seg(ax, P_cont)
dots(ax, P_pts)

# Vertical event lines spanning the panels
trans = mtransforms.blended_transform_factory(axes[0].transData, fig.transFigure)


def vline(x, y0, y1, **kw):
    fig.add_artist(Line2D([x, x], [1 - y0 / H, 1 - y1 / H], transform=trans, color='k', **kw))


vline(SHOCKS[0], 43, 906, lw=1.3, dashes=(8, 5))
vline(SHOCKS[1], 60, 906, lw=1.3, dashes=(8, 5))
vline(FR_START, 60, 528, lw=1.8, dashes=(1.2, 8))
vline(FR_END, 43, 867, lw=1.8, dashes=(1.2, 8))

fig.text(98 / W, 1 - 27 / H, 'WI0  -  MAG & PLASMA data', fontsize=20, ha='left', va='baseline')
fig.text(508 / W, 1 - 950 / H, 'DOY  of  2012', fontsize=LAB_FS, ha='center', va='center')

fig.savefig('out.png', dpi=100)
